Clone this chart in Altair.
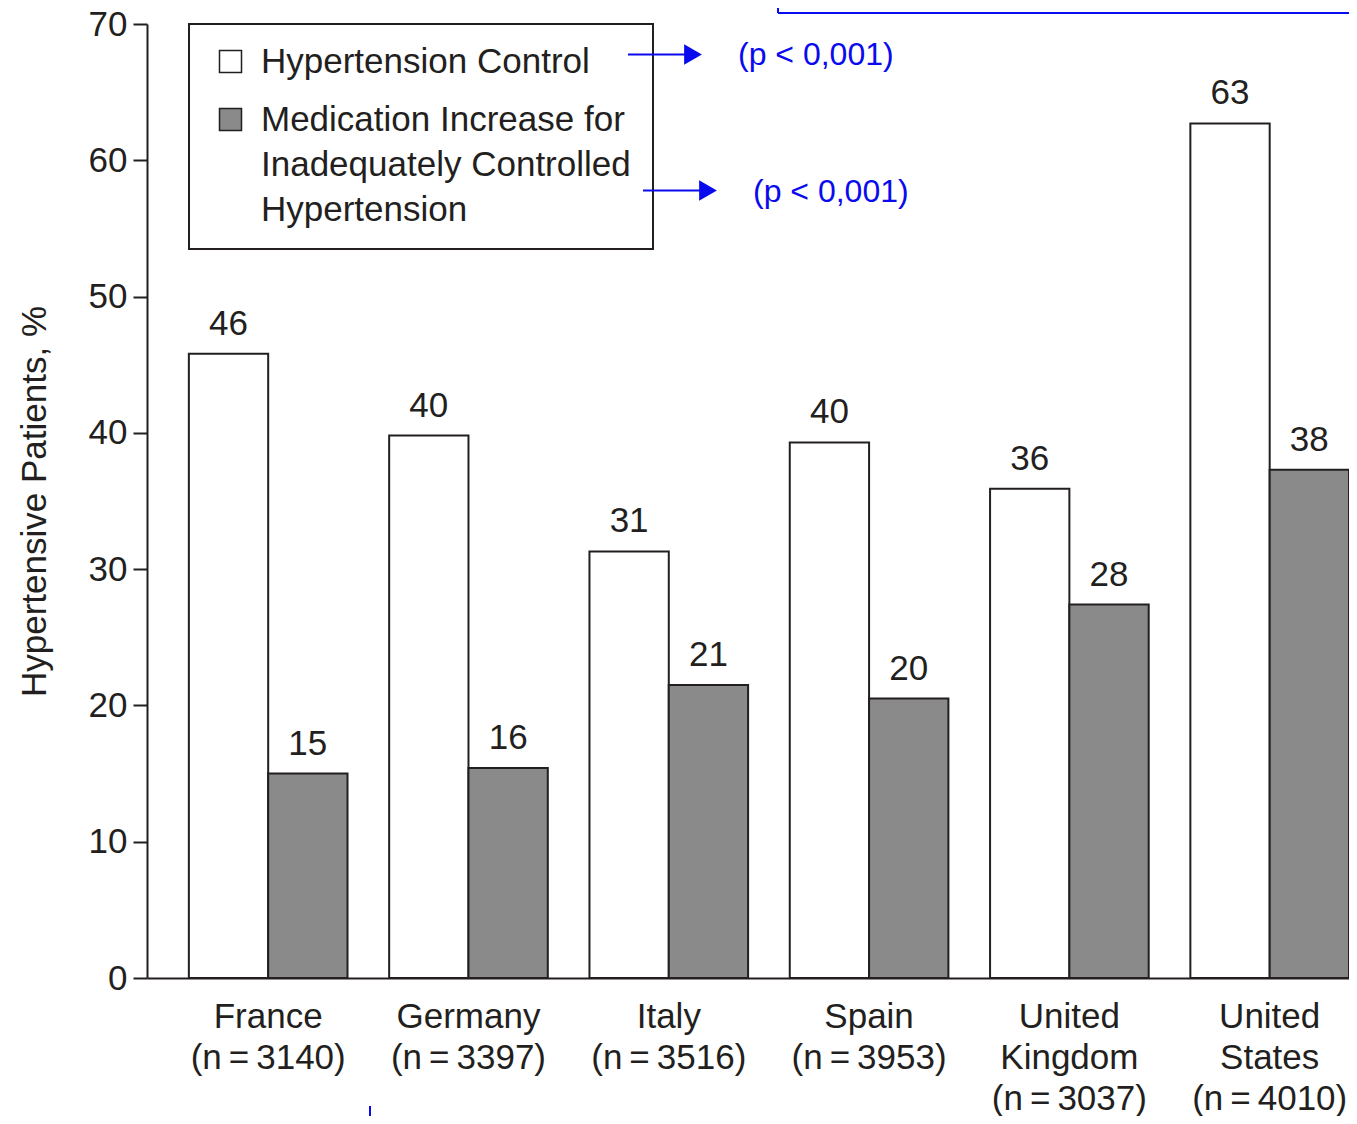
import altair as alt
import pandas as pd

FONT = "Liberation Sans, Arial, Helvetica, sans-serif"
INK = "#231f20"
BLUE = "#0a0aee"

# country labels on the x axis ("|" = line break)
countries = [
    "France|(n\u2009=\u20093140)",
    "Germany|(n\u2009=\u20093397)",
    "Italy|(n\u2009=\u20093516)",
    "Spain|(n\u2009=\u20093953)",
    "United|Kingdom|(n\u2009=\u20093037)",
    "United|States|(n\u2009=\u20094010)",
]
series = [
    "Hypertension Control",
    "Medication Increase for|Inadequately Controlled|Hypertension",
]
control = [45.8, 39.8, 31.3, 39.3, 35.9, 62.7]
control_labels = ["46", "40", "31", "40", "36", "63"]
medication = [15.0, 15.4, 21.5, 20.5, 27.4, 37.3]
medication_labels = ["15", "16", "21", "20", "28", "38"]
p_texts = ["(p < 0,001)", "(p < 0,001)"]

rows = []
for c, v, l in zip(countries, control, control_labels):
    rows.append({"country": c, "series": series[0], "value": v, "label": l})
for c, v, l in zip(countries, medication, medication_labels):
    rows.append({"country": c, "series": series[1], "value": v, "label": l})
df = pd.DataFrame(rows)

x_enc = alt.X(
    "country:N",
    sort=countries,
    title=None,
    scale=alt.Scale(paddingInner=0.208, paddingOuter=0.1045, align=1),
    axis=alt.Axis(
        labelExpr="split(datum.label, '|')",
        labelAngle=0,
        labelFontSize=35,
        labelLineHeight=41,
        labelPadding=21,
        labelBaseline="top",
        ticks=False,
        labelLimit=0,
    ),
)
xoff_enc = alt.XOffset("series:N", sort=series, scale=alt.Scale(paddingInner=0, paddingOuter=0))
y_enc = alt.Y(
    "value:Q",
    scale=alt.Scale(domain=[0, 70], nice=False),
    axis=alt.Axis(
        values=[0, 10, 20, 30, 40, 50, 60, 70],
        title="Hypertensive Patients, %",
        titleFontSize=35,
        titleFontWeight="normal",
        titlePadding=36,
        labelFontSize=35,
        labelPadding=6,
        tickSize=14,
        tickWidth=2,
        tickColor=INK,
        grid=False,
    ),
)

base = alt.Chart(df)

bars = base.mark_bar(stroke=INK, strokeWidth=2).encode(
    x=x_enc,
    xOffset=xoff_enc,
    y=y_enc,
    color=alt.Color(
        "series:N",
        sort=series,
        scale=alt.Scale(domain=series, range=["#ffffff", "#8a8a8a"]),
        legend=alt.Legend(
            title=None,
            orient="none",
            legendX=66,
            legendY=20,
            direction="vertical",
            labelExpr="split(datum.label, '|')",
            labelFontSize=35,
            labelFont=FONT,
            labelColor=INK,
            labelLimit=0,
            labelOffset=13,
            symbolType="square",
            symbolSize=484,
            symbolStrokeColor=INK,
            symbolStrokeWidth=1.5,
            padding=0,
            rowPadding=22,
        ),
    ),
)

labels = base.mark_text(
    dy=-19, baseline="alphabetic", fontSize=35, font=FONT, color=INK
).encode(x=x_enc, xOffset=xoff_enc, y=y_enc, text="label:N")

one = pd.DataFrame({"a": [0]})

# frame around the legend
legend_box = alt.Chart(one).mark_rect(fill=None, stroke=INK, strokeWidth=2).encode(
    x=alt.value(42), x2=alt.value(506), y=alt.value(0), y2=alt.value(225)
)

# blue annotation arrows and p-values
arrow1 = alt.Chart(one).mark_rule(color=BLUE, strokeWidth=2).encode(
    x=alt.value(481), x2=alt.value(540), y=alt.value(30.5)
)
head1 = alt.Chart(one).mark_point(shape="triangle-right", filled=True, color=BLUE, size=420, opacity=1).encode(
    x=alt.value(546), y=alt.value(30.5)
)
ptext1 = alt.Chart(one).mark_text(align="left", baseline="middle", fontSize=32, font=FONT, color=BLUE).encode(
    x=alt.value(591), y=alt.value(31), text=alt.value(p_texts[0])
)
arrow2 = alt.Chart(one).mark_rule(color=BLUE, strokeWidth=2).encode(
    x=alt.value(496), x2=alt.value(555), y=alt.value(166.5)
)
head2 = alt.Chart(one).mark_point(shape="triangle-right", filled=True, color=BLUE, size=420, opacity=1).encode(
    x=alt.value(561), y=alt.value(166.5)
)
ptext2 = alt.Chart(one).mark_text(align="left", baseline="middle", fontSize=32, font=FONT, color=BLUE).encode(
    x=alt.value(606), y=alt.value(168), text=alt.value(p_texts[1])
)

# cut-off blue box at the top and small blue tick at the bottom
box_h = alt.Chart(one).mark_rule(color=BLUE, strokeWidth=2).encode(
    x=alt.value(631), x2=alt.value(1212), y=alt.value(-11)
)
box_v = alt.Chart(one).mark_rule(color=BLUE, strokeWidth=2).encode(
    x=alt.value(631), y=alt.value(-24), y2=alt.value(-11)
)
tick_b = alt.Chart(one).mark_rule(color=BLUE, strokeWidth=2).encode(
    x=alt.value(223), y=alt.value(1082), y2=alt.value(1092)
)

chart = alt.layer(
    bars, labels, legend_box, arrow1, head1, ptext1, arrow2, head2, ptext2, box_h, box_v, tick_b
).properties(
    width=1202,
    height=954,
    autosize=alt.AutoSizeParams(type="none"),
    padding={"left": 139, "top": 16, "right": 0, "bottom": 138},
).configure(
    style={"guide-label": {"lineHeight": 45}}
).configure_view(
    stroke=None
).configure_axis(
    labelFont=FONT,
    titleFont=FONT,
    labelColor=INK,
    titleColor=INK,
    domainColor=INK,
    domainWidth=2,
)

chart.save("out.html", embed_options={"renderer": "svg", "actions": False})
